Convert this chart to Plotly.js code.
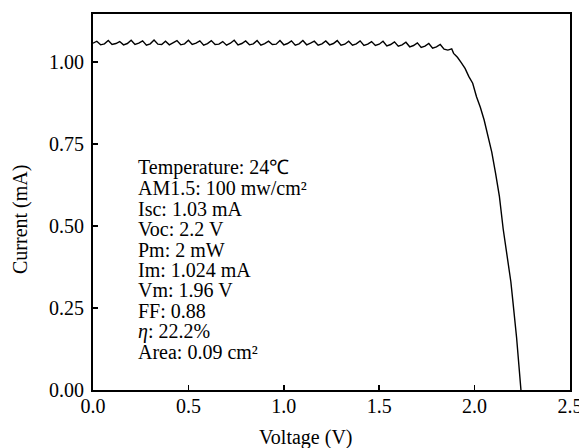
<!DOCTYPE html>
<html>
<head>
<meta charset="utf-8">
<script src="https://cdn.plot.ly/plotly-3.0.1.min.js"></script>
<style>html,body{margin:0;padding:0;background:#fff;}#chart{width:579px;height:448px;}</style>
</head>
<body>
<div id="chart"></div>
<script>
// Voltage (V) and current (mA)
const voltage = [
  0.00,0.02,0.04,0.06,0.08,0.10,0.12,0.14,0.16,0.18,
  0.20,0.22,0.24,0.26,0.28,0.30,0.32,0.34,0.36,0.38,
  0.40,0.42,0.44,0.46,0.48,0.50,0.52,0.54,0.56,0.58,
  0.60,0.62,0.64,0.66,0.68,0.70,0.72,0.74,0.76,0.78,
  0.80,0.82,0.84,0.86,0.88,0.90,0.92,0.94,0.96,0.98,
  1.00,1.02,1.04,1.06,1.08,1.10,1.12,1.14,1.16,1.18,
  1.20,1.22,1.24,1.26,1.28,1.30,1.32,1.34,1.36,1.38,
  1.40,1.42,1.44,1.46,1.48,1.50,1.52,1.54,1.56,1.58,
  1.60,1.62,1.64,1.66,1.68,1.70,1.72,1.74,1.76,1.78,
  1.80,1.82,1.84,1.86,1.88,1.89,1.91,1.93,1.95,1.97,
  1.99,2.01,2.03,2.05,2.07,2.09,2.11,2.13,2.15,2.17,
  2.19,2.20,2.22,2.243
];
const current = [
  1.057,1.063,1.052,1.055,1.065,1.053,1.056,1.062,1.052,1.056,
  1.066,1.053,1.057,1.064,1.051,1.055,1.067,1.054,1.053,1.063,
  1.052,1.058,1.065,1.052,1.055,1.066,1.053,1.057,1.064,1.051,
  1.056,1.065,1.053,1.054,1.062,1.051,1.057,1.066,1.052,1.056,
  1.064,1.052,1.055,1.065,1.051,1.056,1.063,1.053,1.054,1.065,
  1.052,1.056,1.064,1.051,1.055,1.065,1.052,1.057,1.063,1.051,
  1.055,1.064,1.052,1.056,1.065,1.051,1.054,1.063,1.051,1.055,
  1.064,1.050,1.054,1.062,1.050,1.054,1.063,1.049,1.053,1.061,
  1.048,1.052,1.060,1.046,1.050,1.058,1.044,1.048,1.056,1.042,
  1.046,1.053,1.039,1.036,1.040,1.026,1.014,0.998,0.980,0.955,
  0.935,0.894,0.862,0.823,0.775,0.725,0.660,0.590,0.490,0.412,
  0.330,0.274,0.160,0.000
];
const xTicks = [0, 0.5, 1.0, 1.5, 2.0, 2.5];
const yTicks = [0, 0.25, 0.5, 0.75, 1.0];
const infoLines = [
  "Temperature: 24℃",
  "AM1.5: 100 mw/cm²",
  "Isc: 1.03 mA",
  "Voc: 2.2 V",
  "Pm: 2 mW",
  "Im: 1.024 mA",
  "Vm: 1.96 V",
  "FF: 0.88",
  "<i>η</i>: 22.2%",
  "Area: 0.09 cm²"
];
const xTitle = "Voltage (V)";
const yTitle = "Current (mA)";

const FONT = '"Liberation Serif", "Times New Roman", serif';
const W = 579, H = 448, L = 93, R = 9, T = 14, B = 58;
const pw = W - L - R, ph = H - T - B;
const px2x = p => (p - L) / pw;
const py2y = p => (H - B - p) / ph;

const annotations = infoLines.map((t, i) => ({
  text: t, xref: 'paper', yref: 'paper',
  x: px2x(136), y: py2y(168 + i * 20.4),
  xanchor: 'left', yanchor: 'middle', showarrow: false,
  font: {family: FONT, size: 20, color: '#000'}
}));
annotations.push({
  text: xTitle, xref: 'paper', yref: 'paper', x: px2x(306), y: py2y(437),
  xanchor: 'center', yanchor: 'middle', showarrow: false,
  font: {family: FONT, size: 20, color: '#000'}
});
annotations.push({
  text: yTitle, xref: 'paper', yref: 'paper', x: px2x(20), y: py2y(220),
  xanchor: 'center', yanchor: 'middle', showarrow: false, textangle: -90,
  font: {family: FONT, size: 20, color: '#000'}
});

const trace = {
  x: voltage, y: current, type: 'scatter', mode: 'lines',
  line: {color: '#000', width: 1.4}, hoverinfo: 'skip'
};

const layout = {
  width: W, height: H,
  margin: {l: L, r: R, t: T, b: B, pad: 0},
  paper_bgcolor: '#fff', plot_bgcolor: '#fff',
  showlegend: false,
  font: {family: FONT, size: 20, color: '#000'},
  xaxis: {
    range: [0, 2.5], tickvals: xTicks, tickformat: '.1f',
    ticks: 'inside', ticklen: 5, tickwidth: 1.5, tickcolor: '#000',
    showline: true, linecolor: '#000', linewidth: 2, mirror: true,
    showgrid: false, zeroline: false, ticklabeloverflow: 'allow',
    ticklabelstandoff: -3,
    tickfont: {family: FONT, size: 20, color: '#000'}
  },
  yaxis: {
    range: [0, 1.146], tickvals: yTicks, tickformat: '.2f',
    ticks: 'inside', ticklen: 5, tickwidth: 1.5, tickcolor: '#000',
    showline: true, linecolor: '#000', linewidth: 2, mirror: true,
    showgrid: false, zeroline: false, ticklabeloverflow: 'allow',
    ticklabelstandoff: 3,
    tickfont: {family: FONT, size: 20, color: '#000'}
  },
  annotations: annotations
};

Plotly.newPlot('chart', [trace], layout, {displayModeBar: false, staticPlot: true});
</script>
</body>
</html>
